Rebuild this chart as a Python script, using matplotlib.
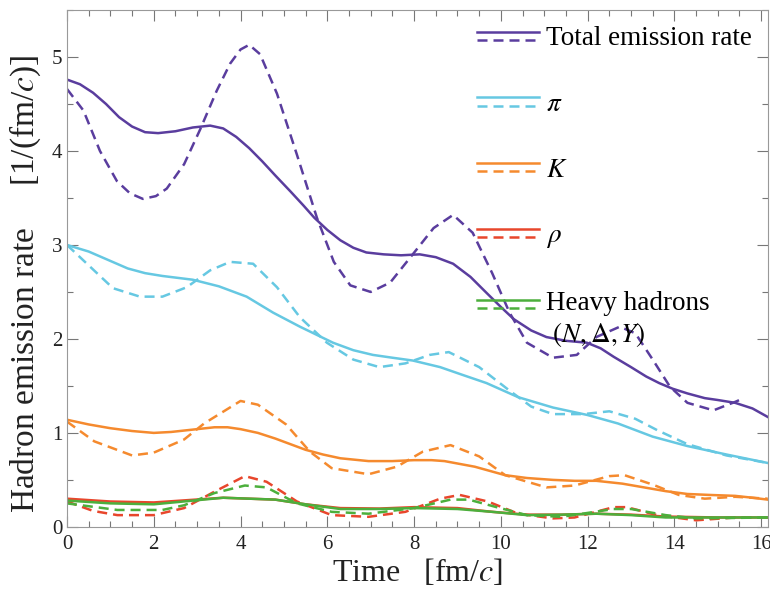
import matplotlib
matplotlib.use("Agg")
import matplotlib.pyplot as plt
from matplotlib.lines import Line2D
from matplotlib.legend_handler import HandlerBase
from matplotlib.ticker import MultipleLocator

plt.rcParams['font.family'] = ['Liberation Serif', 'DejaVu Serif']
plt.rcParams['mathtext.fontset'] = 'stix'

# Total emission rate
total_x = [0, 0.3, 0.6, 0.9, 1.2, 1.5, 1.8, 2.1, 2.5, 2.9, 3.3, 3.6, 3.9, 4.2, 4.5, 4.8, 5.15,
           5.45, 5.7, 6.0, 6.3, 6.6, 6.9, 7.3, 7.7, 8.13, 8.5, 8.9, 9.3, 9.67, 10.0, 10.3, 10.7,
           11.05, 11.5, 11.98, 12.3, 12.6, 13.0, 13.35, 13.65, 13.96, 14.3, 14.7, 15.0, 15.4,
           15.8, 16.15]
total_y = [4.76, 4.71, 4.62, 4.50, 4.36, 4.26, 4.20, 4.19, 4.21, 4.25, 4.27, 4.24, 4.15, 4.03,
           3.89, 3.74, 3.57, 3.42, 3.29, 3.16, 3.05, 2.97, 2.92, 2.9, 2.89, 2.9, 2.87, 2.8, 2.66,
           2.49, 2.34, 2.21, 2.09, 2.02, 1.98, 1.96, 1.9, 1.81, 1.7, 1.6, 1.53, 1.47, 1.42, 1.37,
           1.35, 1.32, 1.26, 1.17]
total_dx = [0, 0.38, 0.76, 1.15, 1.45, 1.75, 2.05, 2.3, 2.7, 3.07, 3.45, 3.76, 4.0, 4.2, 4.45,
            4.84, 5.3, 5.76, 6.15, 6.53, 7.0, 7.45, 7.9, 8.45, 8.9, 9.35, 9.8, 10.2, 10.6, 11.2,
            11.75, 12.2, 12.74, 13.1, 13.5, 13.9, 14.3, 14.9, 15.4, 15.6]
total_dy = [4.66, 4.43, 4.0, 3.68, 3.55, 3.49, 3.52, 3.6, 3.86, 4.23, 4.64, 4.93, 5.08, 5.13,
            5.03, 4.61, 3.96, 3.29, 2.82, 2.57, 2.5, 2.6, 2.86, 3.18, 3.32, 3.13, 2.70, 2.28,
            1.96, 1.80, 1.83, 2.02, 2.13, 2.06, 1.78, 1.49, 1.32, 1.24, 1.33, 1.37]

# pi
pi_x = [0, 0.5, 1.0, 1.4, 1.8, 2.2, 2.9, 3.5, 4.14, 4.75, 5.37, 6.13, 6.6, 7.05, 7.5, 7.97, 8.6,
        9.1, 9.67, 10.4, 11.2, 12.0, 12.7, 13.5, 14.3, 15.2, 16.15]
pi_y = [3.0, 2.93, 2.83, 2.75, 2.70, 2.67, 2.63, 2.56, 2.45, 2.28, 2.13, 1.96, 1.88, 1.83, 1.8,
        1.77, 1.7, 1.62, 1.53, 1.38, 1.27, 1.19, 1.1, 0.96, 0.86, 0.77, 0.68]
pi_dx = [0, 0.46, 1.06, 1.68, 2.2, 2.76, 3.3, 3.76, 4.29, 4.84, 5.37, 5.99, 6.6, 7.2, 7.8, 8.36,
         8.8, 9.5, 10.2, 10.7, 11.2, 11.9, 12.5, 13.1, 13.6, 14.3, 15.2, 16.15]
pi_dy = [3.0, 2.8, 2.54, 2.45, 2.45, 2.55, 2.73, 2.82, 2.8, 2.55, 2.23, 1.96, 1.78, 1.70, 1.74,
         1.83, 1.86, 1.7, 1.45, 1.28, 1.2, 1.2, 1.23, 1.15, 1.03, 0.88, 0.76, 0.68]

# K
k_x = [0, 0.5, 1.0, 1.5, 2.0, 2.4, 2.8, 3.4, 3.7, 4.0, 4.4, 4.8, 5.5, 5.9, 6.3, 6.95, 7.5, 8.0,
       8.4, 8.7, 9.4, 10.1, 10.6, 11.2, 11.7, 12.2, 12.8, 13.3, 13.8, 14.3, 14.8, 15.4, 15.8, 16.15]
k_y = [1.14, 1.09, 1.05, 1.02, 1.0, 1.01, 1.03, 1.06, 1.06, 1.04, 1.0, 0.94, 0.82, 0.77, 0.73,
       0.70, 0.70, 0.71, 0.71, 0.70, 0.64, 0.55, 0.52, 0.5, 0.49, 0.49, 0.46, 0.42, 0.38, 0.35,
       0.34, 0.33, 0.31, 0.29]
k_dx = [0, 0.63, 1.5, 2.0, 2.7, 3.16, 4.0, 4.4, 5.05, 5.6, 6.1, 6.95, 7.6, 8.2, 8.84, 9.5, 10.1,
        11.05, 11.7, 12.5, 12.85, 13.5, 14.1, 14.7, 15.4, 16.15]
k_dy = [1.12, 0.91, 0.76, 0.79, 0.93, 1.1, 1.34, 1.30, 1.09, 0.8, 0.625, 0.56, 0.64, 0.80, 0.87,
        0.75, 0.55, 0.42, 0.44, 0.54, 0.55, 0.45, 0.34, 0.30, 0.32, 0.30]

# rho
rho_x = [0, 1.0, 2, 3.6, 4.8, 5.5, 6.3, 7.2, 8, 9, 9.8, 10.6, 11.4, 12.2, 13.0, 13.8, 15, 16.15]
rho_y = [0.30, 0.27, 0.26, 0.31, 0.29, 0.24, 0.20, 0.195, 0.21, 0.2, 0.16, 0.13, 0.13, 0.14,
         0.13, 0.11, 0.10, 0.10]
rho_dx = [0, 0.6, 1.16, 2.0, 2.7, 3.4, 4.1, 4.6, 5.3, 6.1, 6.95, 7.8, 8.6, 9.05, 9.7, 10.4, 11.2,
          11.7, 12.6, 12.9, 13.6, 14.5, 15.4, 16.15]
rho_dy = [0.27, 0.17, 0.125, 0.125, 0.2, 0.375, 0.54, 0.48, 0.27, 0.125, 0.107, 0.16, 0.30, 0.34,
          0.27, 0.14, 0.09, 0.1, 0.21, 0.21, 0.125, 0.07, 0.1, 0.10]

# heavy hadrons
hv_x = [0, 1.0, 2, 3.6, 4.8, 5.5, 6.3, 7.2, 8, 9, 9.8, 10.6, 11.4, 12.2, 13.0, 13.8, 15, 16.15]
hv_y = [0.28, 0.25, 0.24, 0.31, 0.29, 0.24, 0.19, 0.19, 0.20, 0.19, 0.16, 0.125, 0.13, 0.14,
        0.125, 0.10, 0.10, 0.10]
hv_dx = [0, 1.16, 2.2, 2.7, 3.4, 4.1, 4.6, 5.3, 6.1, 6.95, 8.0, 8.84, 9.26, 9.9, 10.6, 11.4, 12.6,
         13.0, 13.8, 14.5, 16.15]
hv_dy = [0.25, 0.18, 0.18, 0.23, 0.36, 0.44, 0.42, 0.25, 0.16, 0.14, 0.2, 0.29, 0.29, 0.21, 0.125,
         0.107, 0.19, 0.19, 0.125, 0.09, 0.10]

labels = ["Total emission rate", r"$\pi$", r"$K$", r"$\rho$",
          "Heavy hadrons\n " + r"$(N,\Delta,Y)$"]
colors = ["#5a3d9e", "#66c8e2", "#f58a2e", "#e8462c", "#4caf3c"]

series = [(total_x, total_y, total_dx, total_dy),
          (pi_x, pi_y, pi_dx, pi_dy),
          (k_x, k_y, k_dx, k_dy),
          (rho_x, rho_y, rho_dx, rho_dy),
          (hv_x, hv_y, hv_dx, hv_dy)]

DASH = (0, (4, 2.4))


class HandlerPair(HandlerBase):
    # solid line over dashed line, like the original legend
    def create_artists(self, legend, orig_handle, xdescent, ydescent, width, height,
                       fontsize, trans):
        solid, dashed = orig_handle
        shift = 0.6 * fontsize if getattr(solid, "_two_line", False) else 0
        y0 = 0.5 * height + shift
        l1 = Line2D([0, width], [y0 + 3, y0 + 3], color=solid.get_color(), lw=1.8)
        l2 = Line2D([0, width], [y0 - 3, y0 - 3], color=dashed.get_color(), lw=1.8,
                    linestyle=DASH)
        l1.set_transform(trans)
        l2.set_transform(trans)
        return [l1, l2]


fig = plt.figure(figsize=(7.7, 5.9), dpi=100)
ax = fig.add_axes([0.087, 0.107, 0.910, 0.876])

handles = []
for (xs, ys, dxs, dys), c in zip(series, colors):
    s, = ax.plot(xs, ys, color=c, lw=1.8, solid_joinstyle="round")
    d, = ax.plot(dxs, dys, color=c, lw=1.8, linestyle=DASH)
    handles.append((s, d))
handles[-1][0]._two_line = True

ax.set_xlim(0, 16.15)
ax.set_ylim(0, 5.5)
ax.xaxis.set_major_locator(MultipleLocator(2))
ax.xaxis.set_minor_locator(MultipleLocator(0.5))
ax.yaxis.set_major_locator(MultipleLocator(1))
ax.yaxis.set_minor_locator(MultipleLocator(0.5))
ax.tick_params(which="both", direction="in", top=True, right=True, color="#777777",
               labelsize=15, labelcolor="#222222")
ax.tick_params(which="major", length=8, width=0.8)
ax.tick_params(which="minor", length=4, width=0.8)
ax.tick_params(axis="x", pad=6)
for sp in ax.spines.values():
    sp.set_color("#999999")
    sp.set_linewidth(0.8)

ax.set_xlabel(r"Time   [fm/$c$]", fontsize=23, color="#222222", labelpad=2)
ax.set_ylabel(r"Hadron emission rate     [1/(fm/$c$)]", fontsize=24, color="#222222")
ax.yaxis.set_label_coords(-0.034, 0.47)

ax.legend(handles, labels, handler_map={tuple: HandlerPair()}, loc="upper right",
          frameon=False, fontsize=19.5, handlelength=2.3, handletextpad=0.25,
          labelspacing=1.5, bbox_to_anchor=(1.0, 1.0), borderaxespad=0.2)

plt.savefig("out.png", dpi=100)
